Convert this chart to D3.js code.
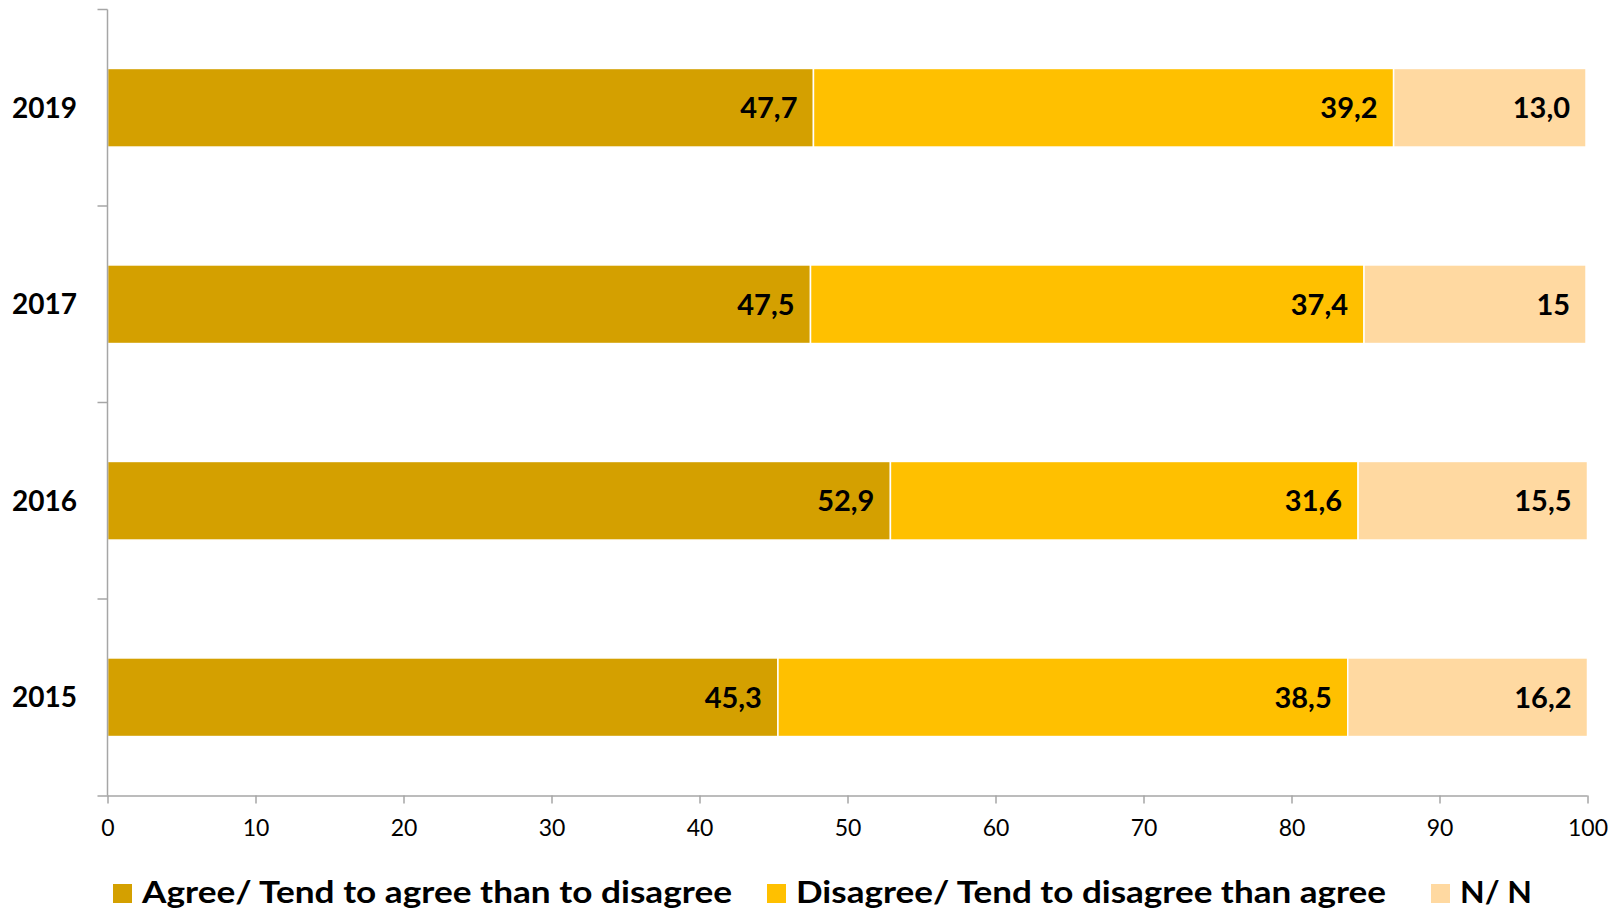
<!DOCTYPE html>
<html>
<head>
<meta charset="utf-8">
<script src="https://cdn.jsdelivr.net/npm/d3@7"></script>
<style>
  html, body { margin: 0; padding: 0; background: #fff; }
  svg { display: block; }
</style>
</head>
<body>
<svg id="chart" width="1623" height="912"></svg>
<script>
// ---- Data ----
const years = ["2019", "2017", "2016", "2015"];
const seriesNames = [
  "Agree/ Tend to agree than to disagree",
  "Disagree/ Tend to disagree than agree",
  "N/ N"
];
const agree    = [47.7, 47.5, 52.9, 45.3];
const disagree = [39.2, 37.4, 31.6, 38.5];
const nn       = [13.0, 15, 15.5, 16.2];
const agreeLabels    = ["47,7", "47,5", "52,9", "45,3"];
const disagreeLabels = ["39,2", "37,4", "31,6", "38,5"];
const nnLabels       = ["13,0", "15", "15,5", "16,2"];
const xTicks = [0, 10, 20, 30, 40, 50, 60, 70, 80, 90, 100];
const colors = ["#D4A000", "#FFC000", "#FFD9A1"];

// ---- Layout ----
const svg = d3.select("#chart");
const mLeft = 107.5, mRight = 1587.5, mTop = 9.5, mBottom = 795.5;
const FONT = "Lato, 'Open Sans', sans-serif";

const x = d3.scaleLinear().domain([0, 100]).range([mLeft, mRight]);
const y = d3.scaleBand().domain(years).range([mTop, mBottom]).paddingInner(0.6).paddingOuter(0.3);
const yAxisBand = d3.scaleBand().domain(years).range([mTop, mBottom]);

const valuesBySeries = [agree, disagree, nn];
const labelsBySeries = [agreeLabels, disagreeLabels, nnLabels];

// stacked data
const rows = years.map((yr, i) => {
  let acc = 0;
  return valuesBySeries.map((vals, s) => {
    const seg = { year: yr, s, x0: acc, x1: acc + vals[i], label: labelsBySeries[s][i] };
    acc += vals[i];
    return seg;
  });
});
const segs = rows.flat();

const g = svg.append("g");

g.selectAll("rect.seg")
  .data(segs)
  .join("rect")
  .attr("class", "seg")
  .attr("x", d => x(d.x0))
  .attr("width", d => x(d.x1) - x(d.x0))
  .attr("y", d => y(d.year))
  .attr("height", y.bandwidth())
  .attr("fill", d => colors[d.s])
  .attr("stroke", "#fff")
  .attr("stroke-width", 1.5);

g.selectAll("text.lab")
  .data(segs)
  .join("text")
  .attr("class", "lab")
  .attr("x", d => x(d.x1) - 16)
  .attr("y", d => y(d.year) + y.bandwidth() / 2)
  .attr("dy", "0.36em")
  .attr("text-anchor", "end")
  .attr("font-family", FONT)
  .attr("font-weight", "bold")
  .attr("font-size", 29)
  .attr("fill", "#000")
  .text(d => d.label);

// ---- Axes ----
const axisColor = "#A6A6A6";
const xAxis = svg.append("g")
  .attr("transform", `translate(0,${mBottom})`)
  .call(d3.axisBottom(x).tickValues(xTicks).tickSize(8).tickPadding(16).tickSizeOuter(0));
xAxis.select(".domain").attr("stroke", axisColor).attr("stroke-width", 1.5)
  .attr("d", `M${mLeft - 10},0.5H${mRight}`);
xAxis.selectAll(".tick line").attr("stroke", axisColor).attr("stroke-width", 1.5);
xAxis.selectAll(".tick text").attr("font-family", FONT).attr("font-size", 23).attr("fill", "#000");

// y axis line + ticks at band boundaries
const yAxisG = svg.append("g");
yAxisG.append("line")
  .attr("x1", mLeft).attr("x2", mLeft).attr("y1", mTop).attr("y2", mBottom)
  .attr("stroke", axisColor).attr("stroke-width", 1.5);
const boundaries = years.map(yr => yAxisBand(yr));
yAxisG.selectAll("line.yt")
  .data(boundaries)
  .join("line")
  .attr("class", "yt")
  .attr("x1", mLeft - 10).attr("x2", mLeft)
  .attr("y1", d => d).attr("y2", d => d)
  .attr("stroke", axisColor).attr("stroke-width", 1.5);

yAxisG.selectAll("text.yl")
  .data(years)
  .join("text")
  .attr("class", "yl")
  .attr("x", 77)
  .attr("y", d => yAxisBand(d) + yAxisBand.bandwidth() / 2)
  .attr("dy", "0.36em")
  .attr("text-anchor", "end")
  .attr("font-family", FONT)
  .attr("font-weight", "bold")
  .attr("font-size", 28)
  .attr("fill", "#000")
  .text(d => d);

// ---- Legend ----
const legendX = [113, 767, 1431];
const legendTextWidth = [590, 590, 72];
const legend = svg.append("g");
const items = legend.selectAll("g.item")
  .data(seriesNames)
  .join("g")
  .attr("class", "item")
  .attr("transform", (d, i) => `translate(${legendX[i]},884)`);
items.append("rect")
  .attr("width", 19).attr("height", 19)
  .attr("fill", (d, i) => colors[i]);
items.append("text")
  .attr("x", 29)
  .attr("y", 19)
  .attr("font-family", FONT)
  .attr("font-weight", "bold")
  .attr("font-size", 31)
  .attr("textLength", (d, i) => legendTextWidth[i])
  .attr("lengthAdjust", "spacingAndGlyphs")
  .attr("fill", "#000")
  .text(d => d);
</script>
</body>
</html>
